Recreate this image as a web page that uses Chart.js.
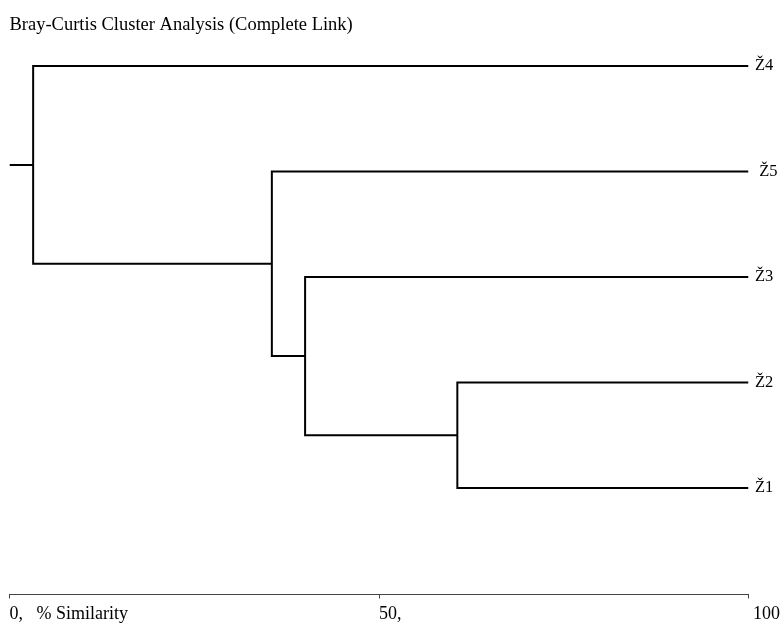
<!DOCTYPE html>
<html>
<head>
<meta charset="utf-8">
<title>Bray-Curtis Cluster Analysis</title>
<script src="https://cdn.jsdelivr.net/npm/chart.js@4/dist/chart.umd.min.js"></script>
<style>
  html, body { margin: 0; padding: 0; background: #fff; }
  #dendro { display: block; }
</style>
</head>
<body>
<canvas id="dendro" width="782" height="624"></canvas>
<script>
// leaves, top to bottom
const leaves = ['Ž4', ' Ž5', 'Ž3', 'Ž2', 'Ž1'];
// merges: node ids 0-4 are leaves, 5.. are the clusters made in order
const mergeLeft = [3, 2, 1, 0];
const mergeRight = [4, 5, 6, 7];
const mergeSimilarity = [60.6, 40.0, 35.5, 3.2];
// x axis ticks
const xTickValues = [0, 50, 100];
const xTickLabels = ['0,\u00a0\u00a0\u00a0% Similarity', '50,', '\u00a0100'];

const serif = '"Liberation Serif", "Times New Roman", serif';

// position of every node: leaves at 100 %, clusters at their merge level
let nodeX = leaves.map(() => 100);
let nodeY = leaves.map((l, i) => i);
mergeSimilarity.forEach((s, k) => {
   nodeX.push(s);
   nodeY.push((nodeY[mergeLeft[k]] + nodeY[mergeRight[k]]) / 2);
});

let datasets = mergeSimilarity.map((s, k) => {
   let a = mergeLeft[k], b = mergeRight[k];
   return {
      data: [
         {x: nodeX[a], y: nodeY[a]},
         {x: s, y: nodeY[a]},
         {x: s, y: nodeY[b]},
         {x: nodeX[b], y: nodeY[b]}
      ]
   };
});
// stub from the root to the axis start
let root = nodeX.length - 1;
datasets.push({data: [{x: 0, y: nodeY[root]}, {x: nodeX[root], y: nodeY[root]}]});

datasets.forEach(d => {
   d.showLine = true;
   d.borderColor = '#000';
   d.borderWidth = 2;
   d.pointRadius = 0;
   d.tension = 0;
   d.borderJoinStyle = 'miter';
});

new Chart(document.getElementById('dendro').getContext('2d'), {
   type: 'scatter',
   data: {datasets: datasets},
   options: {
      responsive: false,
      animation: false,
      layout: {padding: {left: 9.5, right: 0, top: 0, bottom: 0}},
      plugins: {
         legend: {display: false},
         tooltip: {enabled: false},
         title: {
            display: true,
            text: 'Bray-Curtis Cluster Analysis (Complete Link)',
            align: 'start',
            color: '#000',
            font: {family: serif, size: 18.5, weight: 'normal'},
            padding: {top: 14.4, bottom: 0}
         }
      },
      scales: {
         x: {
            type: 'linear',
            min: 0,
            max: 100,
            afterBuildTicks: s => { s.ticks = xTickValues.map(v => ({value: v})); },
            afterFit: s => {
               s.height = 29.5;
               s.paddingLeft = 0;
               s.paddingRight = 0;
            },
            ticks: {
               autoSkip: false,
               maxRotation: 0,
               align: 'start',
               padding: 5,
               color: '#000',
               font: {family: serif, size: 18},
               callback: v => xTickLabels[xTickValues.indexOf(v)]
            },
            grid: {drawOnChartArea: false, tickLength: 4, color: '#444'},
            border: {color: '#444', width: 1}
         },
         y: {
            type: 'linear',
            position: 'right',
            reverse: true,
            min: -0.279,
            max: 5.01,
            afterBuildTicks: s => { s.ticks = leaves.map((l, i) => ({value: i})); },
            afterFit: s => { s.width = 33.5; },
            ticks: {
               autoSkip: false,
               padding: 6.5,
               color: '#000',
               font: {family: serif, size: 16.5},
               callback: v => leaves[v]
            },
            grid: {display: false, drawTicks: false},
            border: {display: false}
         }
      }
   }
});
</script>
</body>
</html>
